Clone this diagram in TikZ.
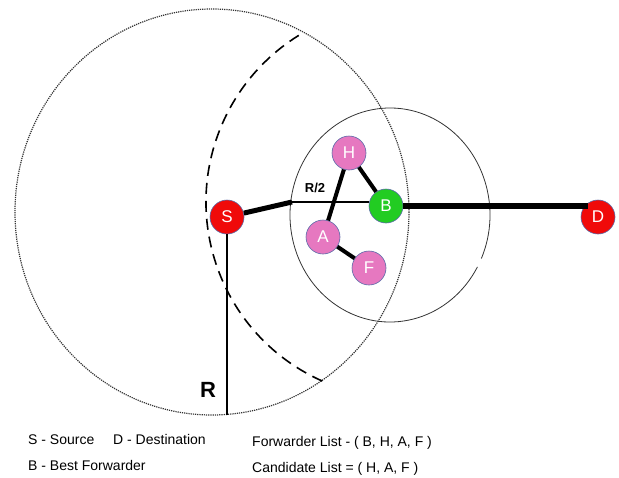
\documentclass[tikz,border=0pt]{standalone}
\usepackage{fontspec}
\setmainfont{Liberation Sans}
\usepackage{xcolor}
\usepackage{tikz}

\definecolor{srcred}{HTML}{F00A0A}
\definecolor{bestgreen}{HTML}{22CC22}
\definecolor{candpink}{HTML}{E678C0}
\definecolor{rimblue}{HTML}{5A6AA8}

\begin{document}
\begin{tikzpicture}[
  x=1pt, y=-1pt,
  every node/.style={font=\fontsize{14}{16}\selectfont},
  station/.style={circle, draw=rimblue, line width=0.6pt, minimum size=34pt,
                  inner sep=0pt, text=white,
                  font=\fontsize{17}{17}\selectfont},
  endpt/.style={station, fill=srcred},
  best/.style={station, fill=bestgreen},
  cand/.style={station, fill=candpink},
  legend/.style={anchor=base west, inner sep=0pt},
  link/.style={line width=4pt, black},
]
  \useasboundingbox (0,0) rectangle (619,477);

  % Ranges
  \draw[densely dotted, line width=1.2pt, black!80] (212,212) ellipse[x radius=197, y radius=203];
  \draw[dashed, dash pattern=on 11pt off 7pt, line width=1.6pt]
    ([shift={(114:196)}]402,202) arc[start angle=114, end angle=240, radius=196];
  \draw[line width=0.8pt, black!80]
    ([shift={(29:100 and 107)}]390,215) arc[start angle=29, end angle=384, x radius=100, y radius=107];

  \coordinate (half) at (292,202);
  \coordinate (rend) at (227,415);

  % Stations
  \node[endpt] (s) at (227,217) {S};
  \node[endpt] (d) at (598,217) {D};
  \node[best]  (b) at (386,206) {B};
  \node[cand]  (h) at (349,153) {H};
  \node[cand]  (a) at (323,237) {A};
  \node[cand]  (f) at (369,268) {F};

  % Links
  \draw[line width=1.4pt] (s.south) -- (rend);
  \draw[line width=5pt] (s) -- (half);
  \draw[line width=1.3pt] (half) -- (half -| b.west);
  \draw[line width=6pt] (b.east) -- ([xshift=-10pt]b.east -| d.center);
  \draw[link] (h) -- (b);
  \draw[link] (h) -- (a);
  \draw[link] (a) -- (f);

  % Labels
  \node[font=\bfseries\fontsize{13}{13}\selectfont] (rhalf) at (315,188) {R/2};
  \node[font=\bfseries\fontsize{22}{22}\selectfont] (rfull) at (208,390) {R};

  % Legend
  \node[legend] (lsrc) at (28,444)  {S - Source};
  \node[legend] (ldst) at (113,444) {D - Destination};
  \node[legend] (lbst) at (28,470)  {B - Best Forwarder};
  \node[legend] (lfwd) at (252,446) {Forwarder List - ( B, H, A, F )};
  \node[legend] (lcnd) at (252,472) {Candidate List = ( H, A, F )};
\end{tikzpicture}
\end{document}
